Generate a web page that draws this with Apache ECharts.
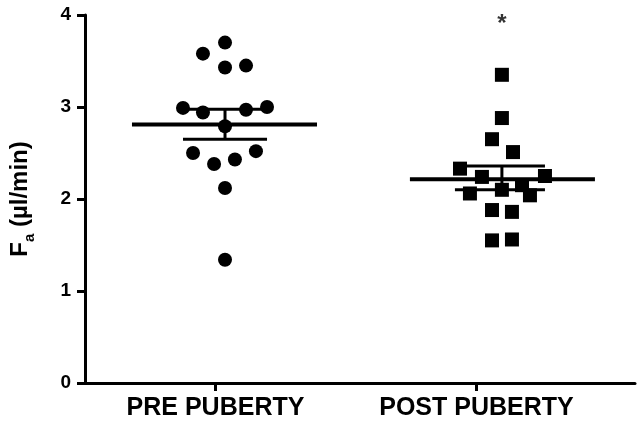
<!DOCTYPE html>
<html>
<head>
<meta charset="utf-8">
<script src="https://cdn.jsdelivr.net/npm/echarts@6/dist/echarts.min.js"></script>
<style>
html,body{margin:0;padding:0;background:#fff;}
#chart{width:637px;height:426px;}
</style>
</head>
<body>
<div id="chart"></div>
<script>
// group labels sit at x = 1 and x = 3 on the hidden value scale
var groups = ['PRE PUBERTY', 'POST PUBERTY'];
var groupTicks = [1, 3];
var yTicks = [0, 1, 2, 3, 4];

// individual points (x = scatter position, y = Fa in ul/min)
var preX  = [1.073,0.904,1.073,1.234,0.751,0.904,1.234,1.395,1.073,0.828,0.989,1.149,1.310,1.073,1.073];
var preY  = [3.70,3.58,3.43,3.45,2.99,2.94,2.97,3.00,2.79,2.50,2.38,2.43,2.52,2.12,1.34];
var postX = [3.195,3.195,3.119,3.280,2.874,3.042,3.525,2.950,3.195,3.349,3.410,3.119,3.272,3.119,3.272];
var postY = [3.35,2.88,2.65,2.51,2.33,2.24,2.25,2.06,2.10,2.15,2.04,1.88,1.86,1.55,1.56];

// mean +/- SEM
var preMean = 2.81, preLo = 2.65, preHi = 2.975;
var postMean = 2.215, postLo = 2.10, postHi = 2.36;
var preCenter = 1.073, postCenter = 3.195;
var preMeanSpan = [0.36, 1.778], preSemSpan = [0.751, 1.395];
var postMeanSpan = [2.49, 3.908], postSemSpan = [2.835, 3.525];
var starY = 3.9;

function pts(xs, ys){
    var d = [];
    for(var i=0;i<xs.length;i++){
        d.push([xs[i], ys[i]]);
    }
    return d;
}
function seg(data, w){
    return {
        type:'line', data:data, symbol:'none', silent:true, z:3,
        lineStyle:{color:'#000', width:w}
    };
}

var myChart = echarts.init(document.getElementById('chart'));
var font = 'Liberation Sans, Arial, sans-serif';
var option = {
    animation:false,
    backgroundColor:'#fff',
    grid:{left:85, right:2, top:15, bottom:43},
    xAxis:{
        type:'value', min:0, max:4.215,
        splitLine:{show:false},
        axisLine:{lineStyle:{color:'#000', width:3}},
        axisTick:{show:true, customValues:groupTicks, length:8, lineStyle:{color:'#000', width:3}},
        axisLabel:{
            customValues:groupTicks, margin:13,
            color:'#000', fontFamily:font, fontWeight:'bold', fontSize:25,
            formatter:function(v){ return groups[groupTicks.indexOf(v)] || ''; }
        }
    },
    yAxis:{
        type:'value', min:0, max:4, interval:1,
        splitLine:{show:false},
        axisLine:{show:true, lineStyle:{color:'#000', width:3}},
        axisTick:{show:true, length:8, lineStyle:{color:'#000', width:3}},
        axisLabel:{
            margin:14, color:'#000', fontFamily:font, fontWeight:'bold', fontSize:19,
            formatter:function(v){ return yTicks.indexOf(v) >= 0 ? String(v) : ''; }
        },
        name:'{b|F}{s|a}{b| (µl/min)}',
        nameLocation:'middle', nameRotate:90, nameGap:48,
        nameTextStyle:{
            rich:{
                b:{fontFamily:font, fontWeight:'bold', fontSize:24, color:'#000', lineHeight:24, verticalAlign:'middle'},
                s:{fontFamily:font, fontWeight:'bold', fontSize:15, color:'#000', lineHeight:34, verticalAlign:'bottom'}
            }
        }
    },
    series:[
        {type:'scatter', data:pts(preX, preY), symbol:'circle', symbolSize:14, itemStyle:{color:'#000', opacity:1}, z:4},
        {type:'scatter', data:pts(postX, postY), symbol:'rect', symbolSize:14, itemStyle:{color:'#000', opacity:1}, z:4},
        seg([[preMeanSpan[0], preMean], [preMeanSpan[1], preMean]], 4),
        seg([[preSemSpan[0], preHi], [preSemSpan[1], preHi]], 3),
        seg([[preSemSpan[0], preLo], [preSemSpan[1], preLo]], 3),
        seg([[preCenter, preLo], [preCenter, preHi]], 3),
        seg([[postMeanSpan[0], postMean], [postMeanSpan[1], postMean]], 4),
        seg([[postSemSpan[0], postHi], [postSemSpan[1], postHi]], 3),
        seg([[postSemSpan[0], postLo], [postSemSpan[1], postLo]], 3),
        seg([[postCenter, postLo], [postCenter, postHi]], 3),
        {
            type:'scatter', data:[[postCenter, starY]], symbolSize:1, itemStyle:{color:'rgba(0,0,0,0)'},
            label:{show:true, position:'inside', formatter:'*', color:'#000', fontFamily:font, fontWeight:'bold', fontSize:24}
        }
    ]
};
myChart.setOption(option);
</script>
</body>
</html>
